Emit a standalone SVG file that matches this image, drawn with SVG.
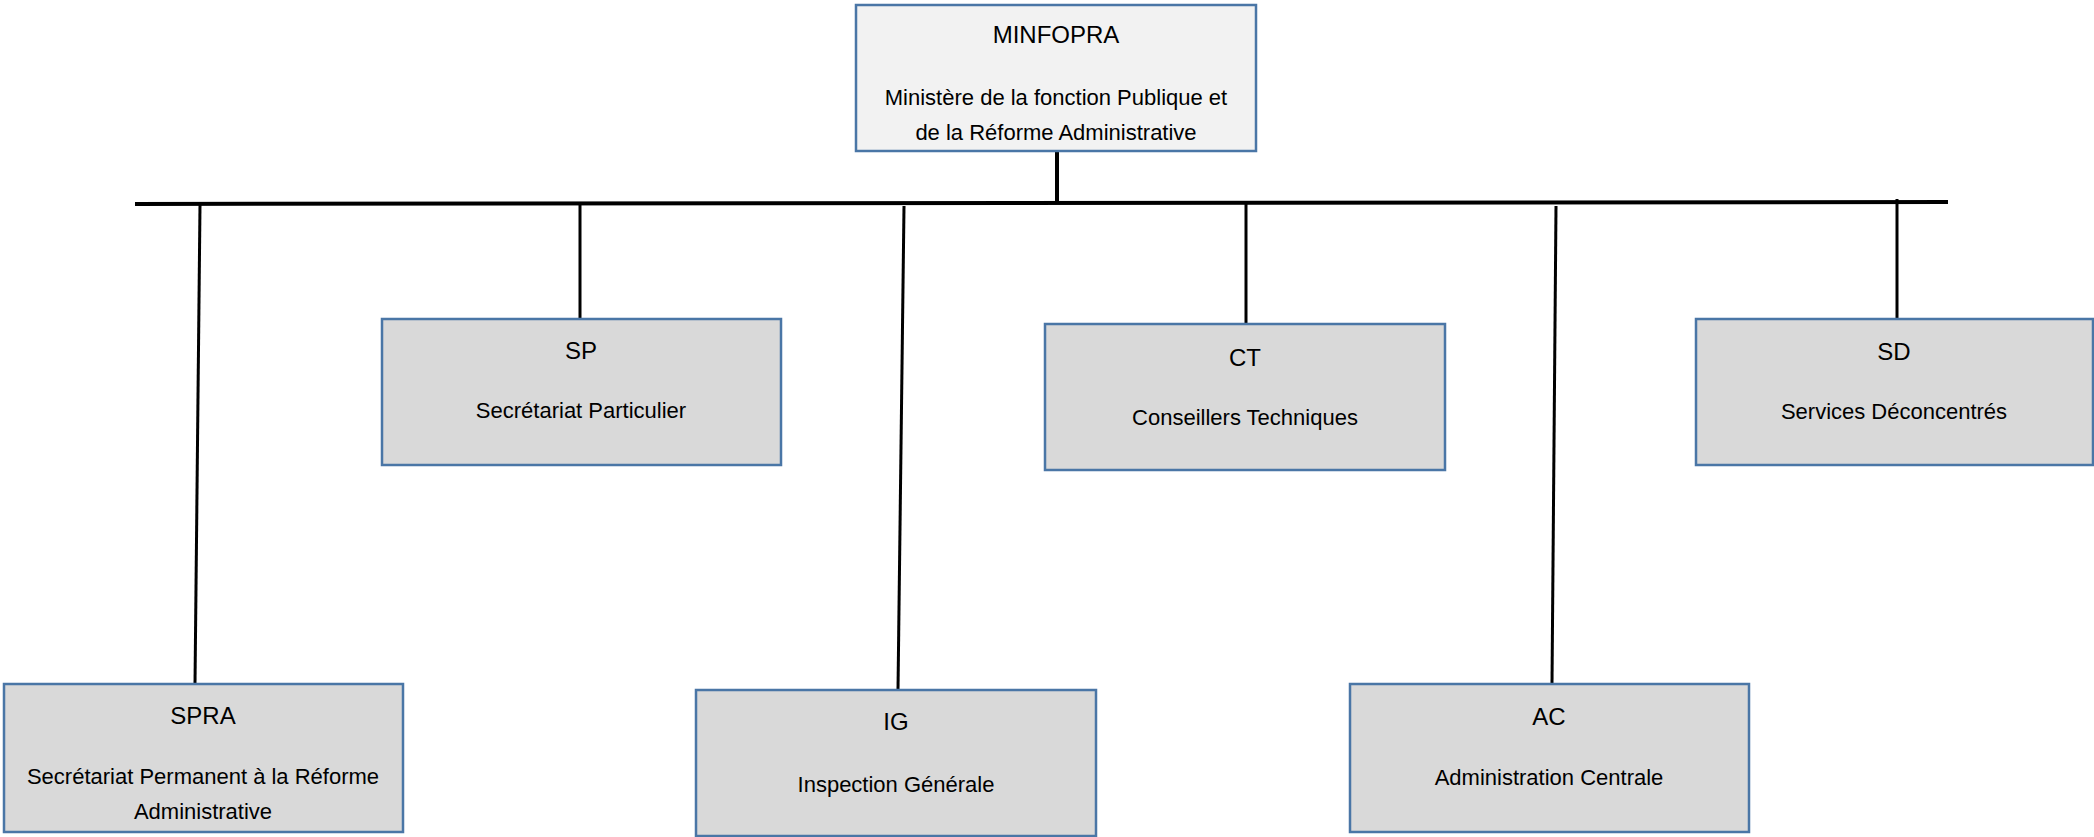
<svg xmlns="http://www.w3.org/2000/svg" width="2094" height="837" viewBox="0 0 2094 837">
<style>
.box{fill:#d9d9d9;stroke:#4a76a6;stroke-width:2.5}
.top{fill:#f2f2f2;stroke:#4a76a6;stroke-width:2.5}
.t{font-family:"Liberation Sans",Arial,sans-serif;font-size:24px;fill:#000;text-anchor:middle}
.s{font-family:"Liberation Sans",Arial,sans-serif;font-size:22px;fill:#000;text-anchor:middle}
.c{stroke:#000;fill:none;stroke-width:3}
</style>
<rect width="2094" height="837" fill="#fff"/>
<g id="connectors">
<line class="c" x1="135" y1="204" x2="1948" y2="202" style="stroke-width:4"/>
<line class="c" x1="1057" y1="151" x2="1057" y2="203" style="stroke-width:4"/>
<line class="c" x1="200" y1="205" x2="195" y2="684"/>
<line class="c" x1="580" y1="205" x2="580" y2="319"/>
<line class="c" x1="904" y1="206" x2="898" y2="689"/>
<line class="c" x1="1246" y1="204" x2="1246" y2="323"/>
<line class="c" x1="1556" y1="206" x2="1552" y2="684"/>
<line class="c" x1="1897" y1="199" x2="1897" y2="318"/>
</g>
<g id="minfopra">
<rect class="top" x="856" y="5" width="400" height="146"/>
<text class="t" x="1056" y="43">MINFOPRA</text>
<text class="s" x="1056" y="105">Ministère de la fonction Publique et</text>
<text class="s" x="1056" y="140">de la Réforme Administrative</text>
</g>
<g id="sp">
<rect class="box" x="382" y="319" width="399" height="146"/>
<text class="t" x="581" y="359">SP</text>
<text class="s" x="581" y="418">Secrétariat Particulier</text>
</g>
<g id="ct">
<rect class="box" x="1045" y="324" width="400" height="146"/>
<text class="t" x="1245" y="366">CT</text>
<text class="s" x="1245" y="425">Conseillers Techniques</text>
</g>
<g id="sd">
<rect class="box" x="1696" y="319" width="397" height="146"/>
<text class="t" x="1894" y="360">SD</text>
<text class="s" x="1894" y="419">Services Déconcentrés</text>
</g>
<g id="spra">
<rect class="box" x="4" y="684" width="399" height="148"/>
<text class="t" x="203" y="724">SPRA</text>
<text class="s" x="203" y="784">Secrétariat Permanent à la Réforme</text>
<text class="s" x="203" y="819">Administrative</text>
</g>
<g id="ig">
<rect class="box" x="696" y="690" width="400" height="146"/>
<text class="t" x="896" y="730">IG</text>
<text class="s" x="896" y="792">Inspection Générale</text>
</g>
<g id="ac">
<rect class="box" x="1350" y="684" width="399" height="148"/>
<text class="t" x="1549" y="725">AC</text>
<text class="s" x="1549" y="785">Administration Centrale</text>
</g>
</svg>
